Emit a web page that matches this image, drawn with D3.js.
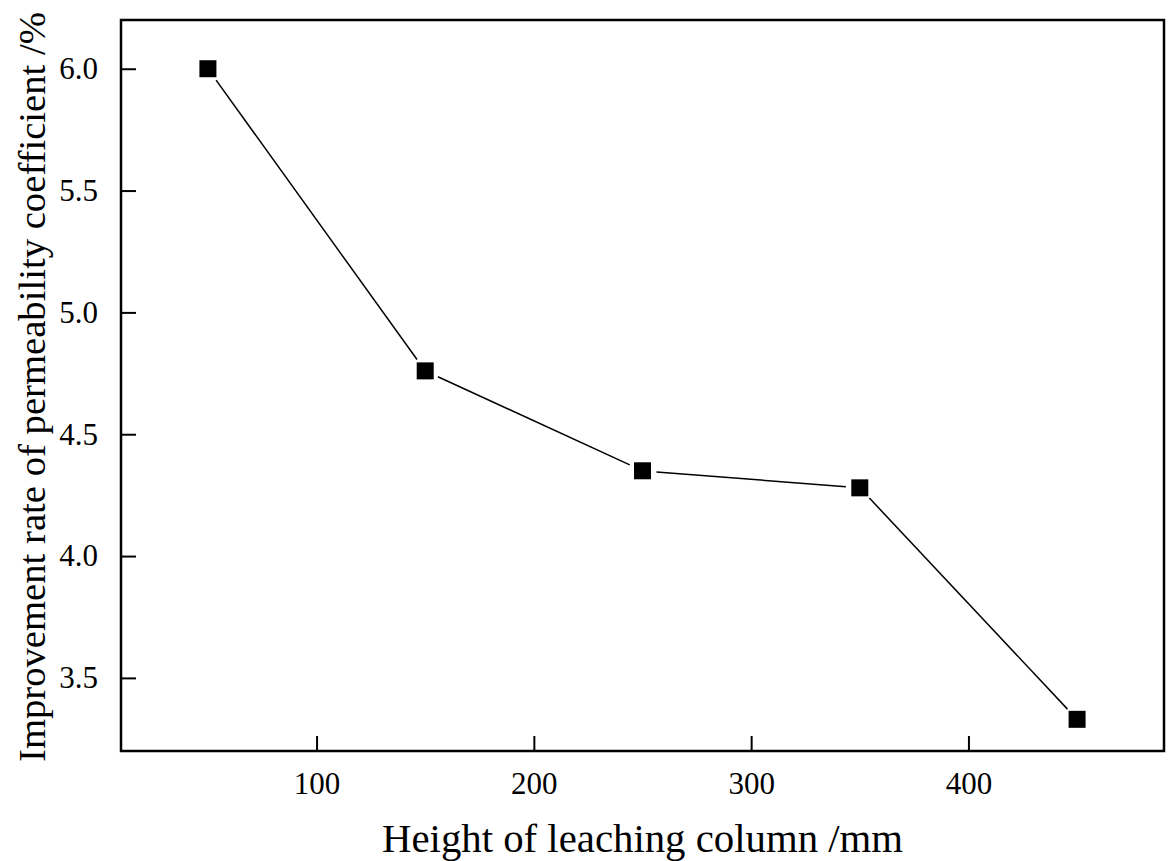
<!DOCTYPE html>
<html>
<head>
<meta charset="utf-8">
<script src="https://cdn.jsdelivr.net/npm/d3@7"></script>
<style>
  html, body { margin: 0; padding: 0; background: #fff; }
  svg { display: block; }
</style>
</head>
<body>
<svg id="chart" width="1168" height="861"></svg>
<script>
// Column height (mm) and improvement rate of permeability coefficient (%)
const heights = [50, 150, 250, 350, 450];
const rates = [6.00, 4.76, 4.35, 4.28, 3.33];
const xTicks = [100, 200, 300, 400];
const yTicks = [3.5, 4.0, 4.5, 5.0, 5.5, 6.0];
const xTitle = "Height of leaching column /mm";
const yTitle = "Improvement rate of permeability coefficient /%";

const W = 1168, H = 861;
const margin = { left: 121, right: 4, top: 20, bottom: 110 };
const font = "'Liberation Serif', 'Times New Roman', serif";

const svg = d3.select("#chart");
const x = d3.scaleLinear().domain([10, 490]).range([margin.left, W - margin.right]);
const y = d3.scaleLinear().domain([3.2, 6.2]).range([H - margin.bottom, margin.top]);

const tickLen = 15;

// x axis (ticks inward)
const xAxis = svg.append("g")
  .attr("transform", `translate(0,${y.range()[0]})`)
  .call(d3.axisBottom(x).tickValues(xTicks).tickFormat(d3.format("d"))
    .tickSizeInner(-tickLen).tickSizeOuter(0).tickPadding(tickLen + 6));
xAxis.select(".domain").remove();
xAxis.selectAll(".tick line").attr("stroke", "#000").attr("stroke-width", 2);
xAxis.selectAll(".tick text").attr("font-family", font).attr("font-size", 31).attr("fill", "#000");

// y axis (ticks inward)
const yAxis = svg.append("g")
  .attr("transform", `translate(${x.range()[0]},0)`)
  .call(d3.axisLeft(y).tickValues(yTicks).tickFormat(d3.format(".1f"))
    .tickSizeInner(-tickLen).tickSizeOuter(0).tickPadding(tickLen + 8));
yAxis.select(".domain").remove();
yAxis.selectAll(".tick line").attr("stroke", "#000").attr("stroke-width", 2);
yAxis.selectAll(".tick text").attr("font-family", font).attr("font-size", 31).attr("fill", "#000");

// frame
svg.append("rect")
  .attr("x", x.range()[0]).attr("y", y.range()[1])
  .attr("width", x.range()[1] - x.range()[0])
  .attr("height", y.range()[0] - y.range()[1])
  .attr("fill", "none").attr("stroke", "#000").attr("stroke-width", 2.5);

// connecting segments, trimmed so they stop short of the markers
const pts = heights.map((h, i) => [x(h), y(rates[i])]);
const msize = 17;
const trim = 14;
const segs = d3.pairs(pts).map(([a, b]) => {
  const dx = b[0] - a[0], dy = b[1] - a[1];
  const len = Math.hypot(dx, dy);
  const ux = dx / len, uy = dy / len;
  return [a[0] + ux * trim, a[1] + uy * trim, b[0] - ux * trim, b[1] - uy * trim];
});
svg.append("g").selectAll("line").data(segs).join("line")
  .attr("x1", d => d[0]).attr("y1", d => d[1])
  .attr("x2", d => d[2]).attr("y2", d => d[3])
  .attr("stroke", "#000").attr("stroke-width", 1.5);

// square markers
svg.append("g").selectAll("rect").data(heights).join("rect")
  .attr("x", (d) => x(d) - msize / 2)
  .attr("y", (d, i) => y(rates[i]) - msize / 2)
  .attr("width", msize).attr("height", msize)
  .attr("fill", "#000");

// axis titles
svg.append("text")
  .attr("x", 382)
  .attr("y", 852)
  .attr("textLength", 521)
  .attr("lengthAdjust", "spacingAndGlyphs")
  .attr("font-family", font).attr("font-size", 40).attr("fill", "#000")
  .text(xTitle);

svg.append("text")
  .attr("transform", "translate(45,762) rotate(-90)")
  .attr("textLength", 750)
  .attr("lengthAdjust", "spacingAndGlyphs")
  .attr("font-family", font).attr("font-size", 38.5).attr("fill", "#000")
  .text(yTitle);
</script>
</body>
</html>
